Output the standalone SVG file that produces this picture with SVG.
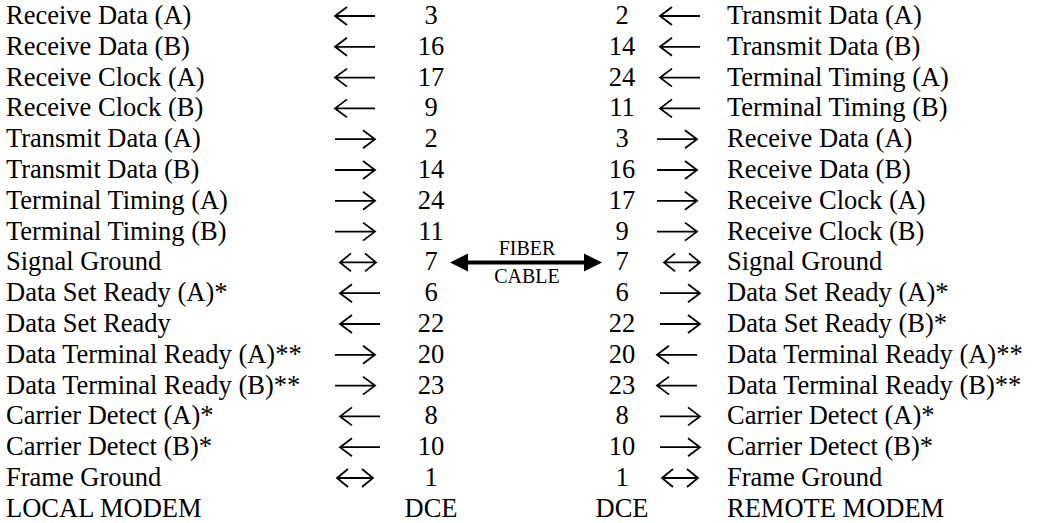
<svg xmlns="http://www.w3.org/2000/svg" width="1055" height="523" viewBox="0 0 1055 523">
<style>
text{font-family:"Liberation Serif","Times New Roman",serif;font-size:26.5px;fill:#000}
.n{text-anchor:middle}
.a{fill:none;stroke:#000;stroke-width:1.8;stroke-linecap:butt;stroke-linejoin:miter}
.s{font-size:20px}
</style>
<defs>
<path id="L" class="a" d="M0 0H40M12 -9L0 0L12 9"/>
<path id="R" class="a" d="M0 0H40M28 -9L40 0L28 9"/>
<path id="B" class="a" d="M0 0H36M11 -9L0 0L11 9M25 -9L36 0L25 9"/>
</defs>
<g id="local-labels">
<text x="6" y="24">Receive Data (A)</text>
<text x="6" y="54.8">Receive Data (B)</text>
<text x="6" y="85.6">Receive Clock (A)</text>
<text x="6" y="116.4">Receive Clock (B)</text>
<text x="6" y="147.2">Transmit Data (A)</text>
<text x="6" y="178">Transmit Data (B)</text>
<text x="6" y="208.8">Terminal Timing (A)</text>
<text x="6" y="239.6">Terminal Timing (B)</text>
<text x="6" y="270.4">Signal Ground</text>
<text x="6" y="301.2">Data Set Ready (A)*</text>
<text x="6" y="332">Data Set Ready</text>
<text x="6" y="362.8">Data Terminal Ready (A)**</text>
<text x="6" y="393.6">Data Terminal Ready (B)**</text>
<text x="6" y="424.4">Carrier Detect (A)*</text>
<text x="6" y="455.2">Carrier Detect (B)*</text>
<text x="6" y="486">Frame Ground</text>
<text x="6" y="516.8">LOCAL MODEM</text>
</g>
<g id="local-pins">
<text class="n" x="431" y="24">3</text>
<text class="n" x="431" y="54.8">16</text>
<text class="n" x="431" y="85.6">17</text>
<text class="n" x="431" y="116.4">9</text>
<text class="n" x="431" y="147.2">2</text>
<text class="n" x="431" y="178">14</text>
<text class="n" x="431" y="208.8">24</text>
<text class="n" x="431" y="239.6">11</text>
<text class="n" x="431" y="270.4">7</text>
<text class="n" x="431" y="301.2">6</text>
<text class="n" x="431" y="332">22</text>
<text class="n" x="431" y="362.8">20</text>
<text class="n" x="431" y="393.6">23</text>
<text class="n" x="431" y="424.4">8</text>
<text class="n" x="431" y="455.2">10</text>
<text class="n" x="431" y="486">1</text>
<text class="n" x="431" y="516.8">DCE</text>
</g>
<g id="remote-pins">
<text class="n" x="622" y="24">2</text>
<text class="n" x="622" y="54.8">14</text>
<text class="n" x="622" y="85.6">24</text>
<text class="n" x="622" y="116.4">11</text>
<text class="n" x="622" y="147.2">3</text>
<text class="n" x="622" y="178">16</text>
<text class="n" x="622" y="208.8">17</text>
<text class="n" x="622" y="239.6">9</text>
<text class="n" x="622" y="270.4">7</text>
<text class="n" x="622" y="301.2">6</text>
<text class="n" x="622" y="332">22</text>
<text class="n" x="622" y="362.8">20</text>
<text class="n" x="622" y="393.6">23</text>
<text class="n" x="622" y="424.4">8</text>
<text class="n" x="622" y="455.2">10</text>
<text class="n" x="622" y="486">1</text>
<text class="n" x="622" y="516.8">DCE</text>
</g>
<g id="remote-labels">
<text x="727" y="24">Transmit Data (A)</text>
<text x="727" y="54.8">Transmit Data (B)</text>
<text x="727" y="85.6">Terminal Timing (A)</text>
<text x="727" y="116.4">Terminal Timing (B)</text>
<text x="727" y="147.2">Receive Data (A)</text>
<text x="727" y="178">Receive Data (B)</text>
<text x="727" y="208.8">Receive Clock (A)</text>
<text x="727" y="239.6">Receive Clock (B)</text>
<text x="727" y="270.4">Signal Ground</text>
<text x="727" y="301.2">Data Set Ready (A)*</text>
<text x="727" y="332">Data Set Ready (B)*</text>
<text x="727" y="362.8">Data Terminal Ready (A)**</text>
<text x="727" y="393.6">Data Terminal Ready (B)**</text>
<text x="727" y="424.4">Carrier Detect (A)*</text>
<text x="727" y="455.2">Carrier Detect (B)*</text>
<text x="727" y="486">Frame Ground</text>
<text x="727" y="516.8">REMOTE MODEM</text>
</g>
<g id="connectors">
<use href="#L" x="335" y="16"/>
<use href="#L" x="335" y="46.8"/>
<use href="#L" x="335" y="77.6"/>
<use href="#L" x="335" y="108.4"/>
<use href="#R" x="335" y="139.2"/>
<use href="#R" x="335" y="170"/>
<use href="#R" x="335" y="200.8"/>
<use href="#R" x="335" y="231.6"/>
<use href="#B" x="340" y="262.4"/>
<use href="#L" x="340" y="293.2"/>
<use href="#L" x="340" y="324"/>
<use href="#R" x="335" y="354.8"/>
<use href="#R" x="335" y="385.6"/>
<use href="#L" x="340" y="416.4"/>
<use href="#L" x="340" y="447.2"/>
<use href="#B" x="337" y="478"/>
<use href="#L" x="660" y="16"/>
<use href="#L" x="660" y="46.8"/>
<use href="#L" x="660" y="77.6"/>
<use href="#L" x="660" y="108.4"/>
<use href="#R" x="657" y="139.2"/>
<use href="#R" x="657" y="170"/>
<use href="#R" x="657" y="200.8"/>
<use href="#R" x="657" y="231.6"/>
<use href="#B" x="664" y="262.4"/>
<use href="#R" x="660" y="293.2"/>
<use href="#R" x="660" y="324"/>
<use href="#L" x="657" y="354.8"/>
<use href="#L" x="657" y="385.6"/>
<use href="#R" x="660" y="416.4"/>
<use href="#R" x="660" y="447.2"/>
<use href="#B" x="662" y="478"/>
</g>
<g id="fiber-cable">
<path d="M462 262.5H590" stroke="#000" stroke-width="4"/>
<polygon points="450,262.5 468,253.5 468,271.5"/>
<polygon points="602,262.5 584,253.5 584,271.5"/>
<text class="n s" x="527" y="255">FIBER</text>
<text class="n s" x="527" y="283">CABLE</text>
</g>
</svg>
